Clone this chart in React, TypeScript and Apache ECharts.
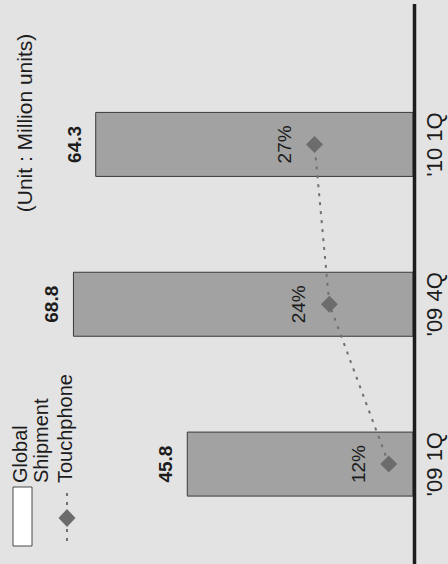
import React, { useEffect, useRef } from "react";
import * as echarts from "echarts";

// Quarterly figures
const quarters = ["'09 1Q", "'09 4Q", "'10 1Q"];
const shipments = [45.8, 68.8, 64.3]; // million units
const touchShare = [12, 24, 27]; // % of shipments

const legendShipment = "Global\nShipment";
const legendTouch = "Touchphone";
const unitNote = "(Unit : Million units)";

const FONT = "Liberation Sans, Arial, Helvetica, sans-serif";
const BG = "#e3e3e3";
const BAR = "#a2a2a2";
const INK = "#1c1c1c";
const MARK = "#6c6c6c";

export default function App() {
  const ref = useRef<HTMLDivElement>(null);

  useEffect(() => {
    if (!ref.current) return;
    const chart = echarts.init(ref.current, undefined, { renderer: "svg" });
    const up = Math.PI / 2; // text reads bottom-to-top

    chart.setOption({
      animation: false,
      backgroundColor: BG,
      grid: { left: 17.5, right: 34.5, top: 64.5, bottom: 20 },
      xAxis: [
        { type: "value", inverse: true, min: 0, max: 80, show: false },
        { type: "value", inverse: true, min: 7, max: 87, show: false },
      ],
      yAxis: {
        type: "category",
        data: quarters,
        position: "right",
        axisLine: { show: false },
        axisTick: { show: false },
        splitLine: { show: false },
        axisLabel: {
          rotate: 90,
          margin: 10,
          fontFamily: FONT,
          fontSize: 22,
          color: INK,
        },
      },
      series: [
        {
          name: "Global Shipment",
          type: "bar",
          xAxisIndex: 0,
          data: shipments,
          barWidth: 65,
          itemStyle: { color: BAR, borderColor: "#3a3a3a", borderWidth: 1 },
          label: {
            show: true,
            position: "left",
            distance: 21,
            rotate: 90,
            align: "center",
            verticalAlign: "middle",
            fontFamily: FONT,
            fontSize: 19,
            fontWeight: "bold",
            color: INK,
          },
          z: 2,
        },
        {
          name: "Touchphone",
          type: "line",
          xAxisIndex: 1,
          data: touchShare,
          symbol: "diamond",
          symbolSize: 17,
          itemStyle: { color: MARK },
          lineStyle: { color: "#707070", width: 2, type: [3, 6] },
          label: {
            show: true,
            position: "left",
            distance: 22,
            rotate: 90,
            align: "center",
            verticalAlign: "middle",
            formatter: "{c}%",
            fontFamily: FONT,
            fontSize: 19,
            color: INK,
          },
          z: 3,
        },
      ],
    });

    // Baseline position from the value axis' zero
    const x0 = chart.convertToPixel({ xAxisIndex: 0 }, 0) as number;

    chart.setOption({
      graphic: [
        {
          type: "line",
          shape: { x1: x0 + 1, y1: 4, x2: x0 + 1, y2: 564 },
          style: { stroke: INK, lineWidth: 3.5 },
          z: 10,
        },
        {
          type: "text",
          x: 24,
          y: 123,
          rotation: up,
          style: {
            text: unitNote,
            align: "center",
            verticalAlign: "middle",
            font: `21px ${FONT}`,
            fill: INK,
          },
        },
        {
          type: "rect",
          shape: { x: 13, y: 487, width: 19, height: 59 },
          style: { fill: "#ffffff", stroke: "#4a4a4a", lineWidth: 1 },
        },
        {
          type: "text",
          x: 30,
          y: 483,
          rotation: up,
          style: {
            text: legendShipment,
            align: "left",
            verticalAlign: "middle",
            font: `20px ${FONT}`,
            lineHeight: 21,
            fill: INK,
          },
        },
        {
          type: "line",
          shape: { x1: 67, y1: 493, x2: 67, y2: 544 },
          style: { stroke: "#707070", lineWidth: 2, lineDash: [3, 6] },
        },
        {
          type: "polygon",
          shape: {
            points: [
              [67, 509],
              [75.5, 518],
              [67, 527],
              [58.5, 518],
            ],
          },
          style: { fill: MARK },
        },
        {
          type: "text",
          x: 65,
          y: 483,
          rotation: up,
          style: {
            text: legendTouch,
            align: "left",
            verticalAlign: "middle",
            font: `20px ${FONT}`,
            fill: INK,
          },
        },
      ],
    });

    return () => chart.dispose();
  }, []);

  return (
    <div
      ref={ref}
      style={{ position: "fixed", left: 0, top: 0, width: 448, height: 564 }}
    />
  );
}
